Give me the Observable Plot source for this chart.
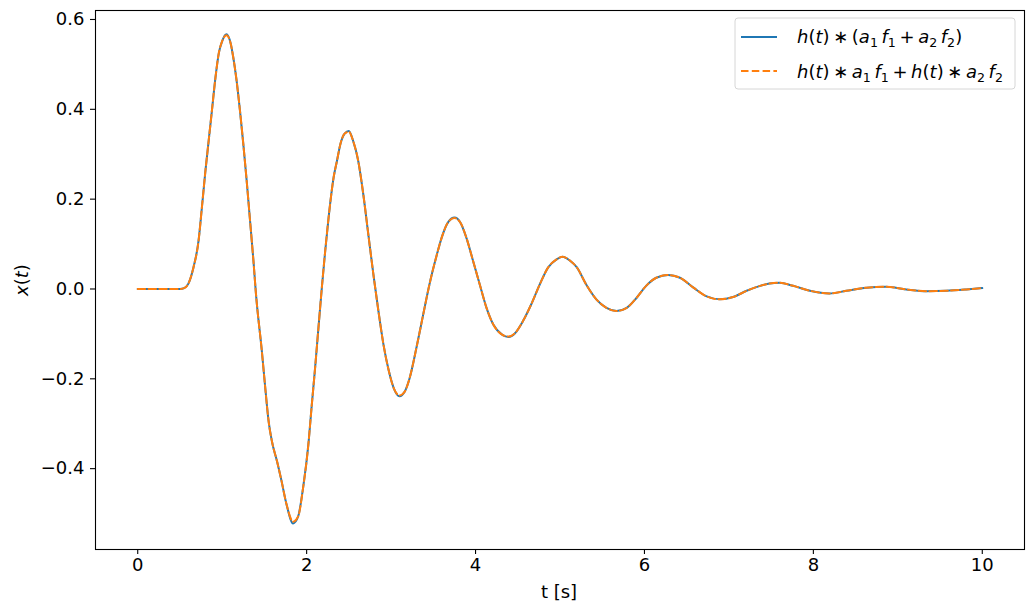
<!DOCTYPE html>
<html><head><meta charset="utf-8">
<script src="https://cdn.jsdelivr.net/npm/d3@7"></script>
<script src="https://cdn.jsdelivr.net/npm/@observablehq/plot@0.6"></script>
<style>body{margin:0;background:#fff} #chart{width:1033px;height:612px}</style>
</head><body><div id="chart"></div><script>
// time samples [s]
const tValues = [
  0, 0.5, 0.55, 0.6, 0.66, 0.72, 0.76, 0.8, 0.84, 0.88,
  0.92, 0.96, 1.0, 1.05, 1.1, 1.13, 1.17, 1.21, 1.25, 1.29,
  1.33, 1.37, 1.4, 1.47, 1.51, 1.55, 1.59, 1.65, 1.7, 1.76,
  1.84, 1.9, 1.96, 2.02, 2.06, 2.1, 2.14, 2.18, 2.22, 2.26,
  2.32, 2.36, 2.4, 2.45, 2.5, 2.55, 2.61, 2.67, 2.73, 2.79,
  2.85, 2.91, 2.97, 3.03, 3.1, 3.16, 3.22, 3.3, 3.38, 3.46,
  3.54, 3.6, 3.68, 3.75, 3.82, 3.89, 3.97, 4.05, 4.13, 4.21,
  4.31, 4.39, 4.47, 4.56, 4.66, 4.76, 4.86, 4.96, 5.03, 5.12,
  5.2, 5.31, 5.43, 5.55, 5.67, 5.79, 5.91, 6.02, 6.14, 6.28,
  6.42, 6.58, 6.73, 6.89, 7.05, 7.21, 7.37, 7.48, 7.6, 7.76,
  7.96, 8.19, 8.39, 8.63, 8.86, 9.1, 9.34, 9.57, 9.81, 10.0
];
// h(t) * (a1 f1 + a2 f2)
const xConvOfSum = [
  0, 0, 0.002, 0.012, 0.048, 0.107, 0.182, 0.26, 0.33, 0.40,
  0.47, 0.525, 0.552, 0.567, 0.547, 0.517, 0.465, 0.398, 0.323, 0.241,
  0.152, 0.063, -0.011, -0.139, -0.22, -0.295, -0.34, -0.384, -0.425, -0.478,
  -0.522, -0.506, -0.44, -0.347, -0.26, -0.176, -0.086, 0.003, 0.085, 0.159,
  0.249, 0.286, 0.323, 0.346, 0.352, 0.33, 0.286, 0.212, 0.122, 0.033,
  -0.049, -0.124, -0.18, -0.22, -0.239, -0.229, -0.198, -0.131, -0.057, 0.015,
  0.075, 0.115, 0.150, 0.159, 0.148, 0.115, 0.063, 0.01, -0.042, -0.079,
  -0.101, -0.107, -0.098, -0.072, -0.034, 0.01, 0.048, 0.066, 0.072, 0.063,
  0.048, 0.01, -0.023, -0.042, -0.049, -0.042, -0.019, 0.007, 0.025, 0.031,
  0.025, 0.003, -0.016, -0.023, -0.018, -0.004, 0.007, 0.012, 0.014, 0.007,
  -0.004, -0.010, -0.004, 0.003, 0.005, -0.001, -0.005, -0.004, -0.001, 0.002
];
// h(t) * a1 f1 + h(t) * a2 f2  (identical by linearity)
const xSumOfConv = [
  0, 0, 0.002, 0.012, 0.048, 0.107, 0.182, 0.26, 0.33, 0.40,
  0.47, 0.525, 0.552, 0.565, 0.547, 0.517, 0.465, 0.398, 0.323, 0.241,
  0.152, 0.063, -0.011, -0.139, -0.22, -0.295, -0.34, -0.384, -0.425, -0.478,
  -0.518, -0.506, -0.44, -0.347, -0.26, -0.176, -0.086, 0.003, 0.085, 0.159,
  0.249, 0.286, 0.323, 0.346, 0.35, 0.33, 0.286, 0.212, 0.122, 0.033,
  -0.049, -0.124, -0.18, -0.22, -0.237, -0.229, -0.198, -0.131, -0.057, 0.015,
  0.075, 0.115, 0.150, 0.158, 0.148, 0.115, 0.063, 0.01, -0.042, -0.079,
  -0.101, -0.106, -0.098, -0.072, -0.034, 0.01, 0.048, 0.066, 0.072, 0.063,
  0.048, 0.01, -0.023, -0.042, -0.049, -0.042, -0.019, 0.007, 0.025, 0.031,
  0.025, 0.003, -0.016, -0.023, -0.018, -0.004, 0.007, 0.012, 0.014, 0.007,
  -0.004, -0.010, -0.004, 0.003, 0.005, -0.001, -0.005, -0.004, -0.001, 0.002
];
const xTicks = [0, 2, 4, 6, 8, 10];
const yTicks = [-0.4, -0.2, 0.0, 0.2, 0.4, 0.6];
const colors = ["#1f77b4", "#ff7f0e"];
const FS = 18;

const seriesA = tValues.map((t, i) => ({t, v: xConvOfSum[i]}));
const seriesB = tValues.map((t, i) => ({t, v: xSumOfConv[i]}));

const chart = Plot.plot({
  width: 1033, height: 612,
  marginLeft: 95, marginRight: 9, marginTop: 10, marginBottom: 63,
  style: {fontFamily: "DejaVu Sans", fontSize: FS + "px", color: "#000", background: "#fff", overflow: "visible"},
  x: {domain: [-0.5, 10.5], label: null},
  y: {domain: [-0.58, 0.62], label: null},
  marks: [
    Plot.axisX({ticks: xTicks, tickSize: 5, tickPadding: 4, tickFormat: d => String(d), label: null, strokeWidth: 1.1, fontSize: FS}),
    Plot.axisY({ticks: yTicks, tickSize: 5, tickPadding: 6, tickFormat: d3.format(".1f"), label: null, strokeWidth: 1.1, fontSize: FS}),
    Plot.line(seriesA, {x: "t", y: "v", stroke: colors[0], strokeWidth: 2, curve: "monotone-x"}),
    Plot.line(seriesB, {x: "t", y: "v", stroke: colors[1], strokeWidth: 2, strokeDasharray: "7.5,3.3", curve: "monotone-x"}),
    Plot.frame({stroke: "#000", strokeWidth: 1.1})
  ]
});
document.getElementById("chart").appendChild(chart);

const svg = d3.select(chart);
const ns = "DejaVu Sans";

function mathText(g, x, y, tokens, size, anchor) {
  const txt = g.append("text").attr("x", x).attr("y", y)
    .attr("text-anchor", anchor || "start")
    .attr("font-family", ns).attr("font-size", size).attr("fill", "#000");
  tokens.forEach(([s, kind]) => {
    const sp = txt.append("tspan").text(s);
    if (kind === "i") sp.attr("font-style", "italic");
    if (kind === "sub") sp.attr("font-size", size * 0.7).attr("dy", size * 0.22);
    if (kind === "after") sp.attr("dy", -size * 0.22);
    if (kind === "iafter") sp.attr("dy", -size * 0.22).attr("font-style", "italic");
  });
  return txt;
}

// axis titles
svg.append("text").attr("x", 559).attr("y", 598).attr("text-anchor", "middle")
  .attr("font-family", ns).attr("font-size", FS).attr("fill", "#000").text("t [s]");
const yl = svg.append("g").attr("transform", "translate(28,280) rotate(-90)");
mathText(yl, 0, 0, [["x", "i"], ["(", ""], ["t", "i"], [")", ""]], FS, "middle");

// legend
const lg = svg.append("g");
lg.append("rect").attr("x", 735).attr("y", 18).attr("width", 280).attr("height", 71)
  .attr("rx", 3).attr("fill", "#fff").attr("fill-opacity", 0.8).attr("stroke", "#d6d6d6");
lg.append("line").attr("x1", 741).attr("x2", 777).attr("y1", 37).attr("y2", 37)
  .attr("stroke", colors[0]).attr("stroke-width", 2);
lg.append("line").attr("x1", 741).attr("x2", 777).attr("y1", 71).attr("y2", 71)
  .attr("stroke", colors[1]).attr("stroke-width", 2).attr("stroke-dasharray", "7.5,3.3");
const thin = "\u2009";
mathText(lg, 797, 43, [
  ["h", "i"], ["(", ""], ["t", "i"], [")", ""], [thin + "\u2217" + thin + "(", ""], ["a", "i"], ["1", "sub"],
  [thin + "f", "iafter"], ["1", "sub"], [thin + "+" + thin, "after"], ["a", "i"], ["2", "sub"],
  [thin + "f", "iafter"], ["2", "sub"], [")", "after"]
], FS);
mathText(lg, 797, 78, [
  ["h", "i"], ["(", ""], ["t", "i"], [")", ""], [thin + "\u2217" + thin, ""], ["a", "i"], ["1", "sub"],
  [thin + "f", "iafter"], ["1", "sub"], [thin + "+" + thin, "after"], ["h", "i"], ["(", ""], ["t", "i"], [")", ""],
  [thin + "\u2217" + thin, ""], ["a", "i"], ["2", "sub"], [thin + "f", "iafter"], ["2", "sub"]
], FS);
</script></body></html>
